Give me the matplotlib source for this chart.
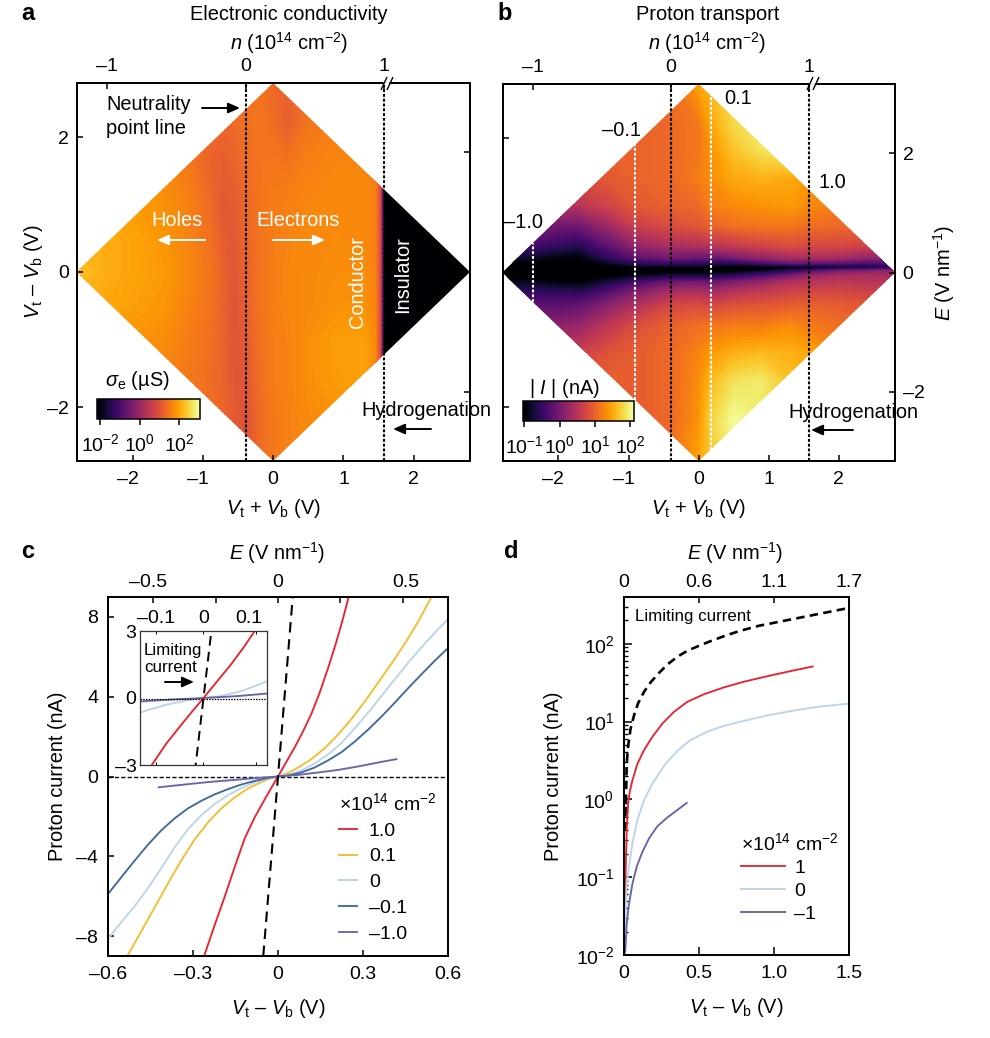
"""Gate-map conductivity and proton transport panels (a-d)."""

import matplotlib
matplotlib.use('Agg')
import matplotlib.pyplot as plt
import numpy as np
from matplotlib.cm import ScalarMappable
from matplotlib.colors import Normalize
from matplotlib.lines import Line2D
from matplotlib.patches import FancyArrowPatch, Polygon
from matplotlib.ticker import LogLocator, NullFormatter
from matplotlib.transforms import ScaledTranslation

plt.rcParams['font.family'] = ['Liberation Sans', 'DejaVu Sans']
plt.rcParams['mathtext.fontset'] = 'custom'
plt.rcParams['mathtext.rm'] = 'Liberation Sans'
plt.rcParams['mathtext.it'] = 'Liberation Sans:italic'
plt.rcParams['mathtext.bf'] = 'Liberation Sans:bold'
plt.rcParams['font.size'] = 14.4

W, H = 990, 1038
TICK_SIZE = 14

# panel a, log10 conductivity on the gate map
a_x = [-2.8, -2.4, -2.0, -1.6, -1.2, -0.9, -0.7, -0.55, -0.4, -0.2, 0.0, 0.2, 0.5, 0.9, 1.3, 1.45, 1.52, 1.56, 1.59, 1.62, 2.8]
a_y = [-2.8, -2.2, -1.6, -1.0, -0.5, 0.0, 0.5, 1.0, 1.6, 2.2, 2.8]
a_sigma = [
    [1.6, 1.6, 1.6, 1.6, 1.6, 1.45, 1.3, 1.15, 1.0, 1.3, 1.5, 1.6, 1.7, 1.8, 1.8, 1.6, 0.9, -0.5, -2.5, -3, -3],
    [1.6, 1.6, 1.6, 1.6, 1.55, 1.4, 1.25, 1.1, 0.95, 1.3, 1.5, 1.6, 1.7, 1.8, 1.85, 1.65, 0.9, -0.5, -2.5, -3, -3],
    [1.7, 1.7, 1.7, 1.65, 1.5, 1.35, 1.2, 1.05, 1.05, 1.35, 1.55, 1.62, 1.75, 1.9, 1.95, 1.7, 0.9, -0.5, -2.5, -3, -3],
    [1.85, 1.85, 1.8, 1.75, 1.55, 1.4, 1.2, 1.02, 1.1, 1.38, 1.55, 1.62, 1.75, 1.92, 1.95, 1.7, 0.9, -0.5, -2.5, -3, -3],
    [2.15, 2.05, 1.95, 1.85, 1.62, 1.42, 1.18, 1.02, 1.15, 1.42, 1.58, 1.65, 1.7, 1.78, 1.8, 1.65, 0.9, -0.5, -2.5, -3, -3],
    [2.3, 2.1, 2.0, 1.9, 1.68, 1.45, 1.2, 1.02, 1.2, 1.42, 1.55, 1.65, 1.7, 1.75, 1.75, 1.6, 0.9, -0.5, -2.5, -3, -3],
    [2.2, 2.1, 2.0, 1.85, 1.62, 1.4, 1.12, 1.05, 1.25, 1.42, 1.55, 1.62, 1.7, 1.72, 1.7, 1.6, 0.9, -0.5, -2.5, -3, -3],
    [2.1, 2.0, 1.9, 1.8, 1.6, 1.32, 1.05, 1.12, 1.28, 1.45, 1.55, 1.6, 1.65, 1.7, 1.7, 1.6, 0.9, -0.5, -2.5, -3, -3],
    [1.85, 1.85, 1.8, 1.7, 1.5, 1.22, 1.15, 1.22, 1.32, 1.45, 1.48, 1.45, 1.6, 1.65, 1.65, 1.55, 0.9, -0.5, -2.5, -3, -3],
    [1.7, 1.7, 1.7, 1.65, 1.5, 1.3, 1.25, 1.3, 1.4, 1.45, 1.35, 1.15, 1.45, 1.6, 1.6, 1.55, 0.9, -0.5, -2.5, -3, -3],
    [1.6, 1.6, 1.6, 1.6, 1.5, 1.4, 1.35, 1.35, 1.4, 1.45, 1.3, 1.2, 1.4, 1.6, 1.6, 1.55, 0.9, -0.5, -2.5, -3, -3],
]

# panel b, log10 |I| on the gate map
b_x = [-2.8, -2.36, -2.0, -1.7, -1.3, -0.9, -0.4, 0.0, 0.17, 0.5, 0.9, 1.3, 1.57, 2.0, 2.4, 2.8]
b_y = [-2.8, -2.2, -1.6, -1.2, -0.8, -0.5, -0.3, -0.15, -0.05, 0.02, 0.08, 0.14, 0.22, 0.4, 0.7, 1.0, 1.4, 1.8, 2.2, 2.8]
b_current = [
    [0.9, 0.9, 0.9, 0.9, 0.9, 0.9, 1.15, 1.45, 1.65, 1.95, 1.95, 1.6, 1.4, 1.2, 1.2, 1.2],
    [0.9, 0.9, 0.9, 0.9, 0.9, 0.95, 1.05, 1.35, 1.75, 2.05, 1.95, 1.6, 1.4, 1.2, 1.2, 1.2],
    [0.9, 0.9, 0.9, 0.9, 0.95, 0.95, 1.05, 1.3, 1.6, 1.85, 1.9, 1.65, 1.45, 1.25, 1.2, 1.2],
    [0.6, 0.6, 0.6, 0.65, 0.85, 0.95, 1.05, 1.25, 1.4, 1.55, 1.6, 1.55, 1.5, 1.25, 1.15, 1.15],
    [0.2, 0.2, 0.2, 0.25, 0.55, 0.8, 1.0, 1.1, 1.15, 1.2, 1.2, 1.3, 1.2, 1.1, 1.05, 1.05],
    [-0.3, -0.2, -0.2, -0.15, 0.15, 0.45, 0.75, 0.8, 0.75, 0.85, 0.9, 0.95, 1.0, 0.95, 0.9, 0.9],
    [-0.55, -0.5, -0.5, -0.55, -0.25, 0.1, 0.4, 0.45, 0.35, 0.5, 0.6, 0.7, 0.75, 0.75, 0.7, 0.7],
    [-0.85, -0.85, -0.95, -1.0, -0.7, -0.35, -0.05, 0.0, -0.1, 0.1, 0.25, 0.45, 0.5, 0.55, 0.5, 0.5],
    [-1.1, -1.1, -1.1, -1.1, -1.0, -0.9, -0.7, -0.7, -0.7, -0.55, -0.3, 0.0, 0.25, 0.35, 0.4, 0.4],
    [-1.1, -1.1, -1.1, -1.1, -1.1, -1.1, -1.05, -1.05, -1.05, -1.0, -0.85, -0.55, -0.3, 0.0, 0.1, 0.2],
    [-1.1, -1.1, -1.1, -1.1, -1.05, -0.95, -0.95, -0.95, -1.0, -1.05, -1.05, -0.95, -0.95, -0.85, -0.8, -0.6],
    [-1.05, -1.05, -1.1, -1.1, -0.85, -0.55, -0.45, -0.55, -0.6, -0.6, -0.35, -0.15, -0.15, -0.2, -0.3, -0.3],
    [-0.75, -0.8, -0.95, -1.0, -0.55, -0.2, -0.05, -0.1, -0.15, 0.0, 0.2, 0.35, 0.4, 0.35, 0.2, 0.2],
    [-0.4, -0.4, -0.5, -0.6, -0.2, 0.2, 0.4, 0.45, 0.5, 0.6, 0.7, 0.8, 0.75, 0.75, 0.7, 0.7],
    [0.1, 0.1, -0.05, -0.05, 0.3, 0.65, 0.8, 0.9, 1.0, 1.1, 1.15, 1.15, 1.1, 1.05, 1.05, 1.05],
    [0.5, 0.5, 0.45, 0.5, 0.7, 0.9, 1.0, 1.05, 1.2, 1.3, 1.35, 1.4, 1.3, 1.2, 1.2, 1.2],
    [0.8, 0.8, 0.8, 0.8, 0.9, 1.0, 1.05, 1.2, 1.3, 1.5, 1.55, 1.5, 1.4, 1.3, 1.3, 1.3],
    [1.0, 1.0, 1.0, 1.0, 1.0, 1.0, 1.05, 1.15, 1.35, 1.65, 1.85, 1.9, 1.7, 1.5, 1.4, 1.4],
    [1.0, 1.0, 1.0, 1.0, 1.0, 1.0, 1.05, 1.15, 1.45, 1.8, 1.95, 1.95, 1.7, 1.5, 1.4, 1.4],
    [1.0, 1.0, 1.0, 1.0, 1.0, 1.0, 1.05, 1.45, 1.6, 1.85, 1.95, 1.9, 1.7, 1.5, 1.4, 1.4],
]

# panel c, proton current against Vt - Vb
v_red = [-0.259, -0.224, -0.188, -0.153, -0.118, -0.082, -0.047, -0.024, 0.0, 0.029, 0.059, 0.088, 0.118, 0.147, 0.176, 0.206, 0.229, 0.249]
i_red = [-8.93, -7.47, -6.02, -4.55, -3.12, -2.04, -1.15, -0.58, 0.0, 0.72, 1.46, 2.25, 3.15, 4.2, 5.4, 6.75, 7.9, 8.98]
v_yellow = [-0.529, -0.482, -0.435, -0.388, -0.341, -0.294, -0.247, -0.2, -0.153, -0.106, -0.059, -0.024, 0.0, 0.035, 0.071, 0.118, 0.165, 0.212, 0.259, 0.306, 0.353, 0.4, 0.447, 0.494, 0.541]
i_yellow = [-8.93, -7.75, -6.55, -5.35, -4.2, -3.15, -2.3, -1.6, -1.05, -0.6, -0.28, -0.08, 0.0, 0.17, 0.45, 0.87, 1.42, 2.1, 2.88, 3.75, 4.7, 5.65, 6.65, 7.75, 8.98]
v_pale = [-0.6, -0.553, -0.506, -0.459, -0.412, -0.365, -0.318, -0.271, -0.224, -0.176, -0.129, -0.082, -0.035, 0.0, 0.035, 0.082, 0.129, 0.176, 0.224, 0.271, 0.318, 0.365, 0.412, 0.459, 0.506, 0.553, 0.6]
i_pale = [-8.14, -7.3, -6.5, -5.6, -4.6, -3.55, -2.65, -1.95, -1.38, -0.93, -0.58, -0.3, -0.1, 0.0, 0.08, 0.3, 0.65, 1.1, 1.68, 2.42, 3.2, 4.03, 4.87, 5.7, 6.47, 7.2, 7.89]
v_navy = [-0.6, -0.553, -0.506, -0.459, -0.412, -0.365, -0.318, -0.271, -0.224, -0.176, -0.129, -0.082, -0.035, 0.0, 0.035, 0.082, 0.129, 0.176, 0.224, 0.271, 0.318, 0.365, 0.412, 0.459, 0.506, 0.553, 0.6]
i_navy = [-5.89, -5.05, -4.22, -3.42, -2.7, -2.1, -1.6, -1.22, -0.9, -0.63, -0.4, -0.22, -0.07, 0.0, 0.05, 0.2, 0.45, 0.8, 1.22, 1.75, 2.35, 3.0, 3.7, 4.42, 5.12, 5.8, 6.44]
v_purple = [-0.421, -0.341, -0.247, -0.153, -0.071, 0.0, 0.071, 0.141, 0.212, 0.282, 0.353, 0.418]
i_purple = [-0.54, -0.42, -0.28, -0.17, -0.07, 0.0, 0.08, 0.2, 0.33, 0.5, 0.7, 0.87]
v_limit = [-0.052, 0.0, 0.052]
i_limit = [-9.0, 0.0, 9.0]
c_labels = ['1.0', '0.1', '0', '\u20130.1', '\u20131.0']

# panel d, same measurements on a log axis
vd_limit = [0.0067, 0.0133, 0.018, 0.027, 0.044, 0.067, 0.093, 0.133, 0.178, 0.233, 0.289, 0.356, 0.422, 0.5, 0.578, 0.667, 0.767, 0.9, 1.173, 1.5]
id_limit = [0.4, 1.0, 2.9, 4.7, 8.1, 12, 17, 24, 32, 42, 54, 68, 81, 94, 108, 125, 145, 170, 216, 288]
vd_red = [0.0067, 0.011, 0.018, 0.027, 0.04, 0.056, 0.067, 0.089, 0.133, 0.189, 0.256, 0.333, 0.422, 0.533, 0.667, 0.8, 0.95, 1.1, 1.258]
id_red = [0.05, 0.12, 0.4, 0.88, 1.3, 1.75, 2.05, 2.85, 4.28, 6.35, 9.4, 13.3, 17.9, 22.4, 27.5, 32.5, 38, 44, 51]
vd_pale = [0.006, 0.011, 0.018, 0.033, 0.056, 0.089, 0.133, 0.189, 0.222, 0.278, 0.356, 0.444, 0.556, 0.667, 0.8, 0.95, 1.1, 1.284, 1.5]
id_pale = [0.012, 0.037, 0.082, 0.135, 0.27, 0.54, 0.97, 1.59, 1.98, 2.88, 4.2, 5.8, 7.4, 8.8, 10.2, 11.9, 13.5, 15.4, 17]
vd_purple = [0.004, 0.009, 0.018, 0.033, 0.056, 0.084, 0.122, 0.167, 0.222, 0.289, 0.356, 0.418]
id_purple = [0.0105, 0.0114, 0.025, 0.045, 0.082, 0.135, 0.21, 0.315, 0.45, 0.585, 0.73, 0.9]
d_labels = ['1', '0', '\u20131']

RED = '#E8252F'
YELLOW = '#F5BC2E'
PALE = '#BDD3E9'
NAVY = '#3F6A9B'
PURPLE = '#6B63A9'

fig = plt.figure(figsize=(W / 100, H / 100), dpi=100)


def px_axes(left, top, right, bottom, **kw):
    return fig.add_axes([left / W, 1 - bottom / H, (right - left) / W, (bottom - top) / H], **kw)


def put(x, y, s, ha='center', va='center', **kw):
    fig.text(x / W, 1 - y / H, s, ha=ha, va=va, **kw)


def arrow(x0, y0, x1, y1, color='black'):
    fig.add_artist(FancyArrowPatch((x0 / W, 1 - y0 / H), (x1 / W, 1 - y1 / H), transform=fig.transFigure,
                                   arrowstyle='-|>,head_length=5,head_width=2.2', color=color, lw=1.4,
                                   shrinkA=0, shrinkB=0, zorder=6, mutation_scale=1.4))


def seg(x0, y0, x1, y1, color='black', lw=1.0):
    fig.add_artist(Line2D([x0 / W, x1 / W], [1 - y0 / H, 1 - y1 / H], transform=fig.transFigure,
                          color=color, lw=lw, zorder=6, solid_capstyle='butt'))


def nudge(lab, dx):
    shift = ScaledTranslation(dx / 100, 0, fig.dpi_scale_trans)
    lab.set_transform(lab.get_transform() + shift)


def hang_minus(labels, dx=-5):
    # digits sit over the tick, the dash hangs out to the left
    for lab in labels:
        if lab.get_text().startswith('\u2013'):
            nudge(lab, dx)


def style(ax, length=4.3):
    for spine in ax.spines.values():
        spine.set_linewidth(1.25)
    ax.tick_params(axis='both', direction='in', length=length, width=1.1, labelsize=TICK_SIZE)


def gate_map(ax, x, y, z, vmin, vmax, n_ticks, n_lines, white_lines):
    levels = np.linspace(vmin, vmax, 161)
    cs = ax.contourf(x, y, np.array(z), levels=levels, cmap='inferno', extend='both', antialiased=False)
    diamond = Polygon([(-2.8, 0), (0, 2.8), (2.8, 0), (0, -2.8)], closed=True, transform=ax.transData,
                      fc='none', ec='none')
    ax.add_patch(diamond)
    cs.set_clip_path(diamond)
    ax.set_xlim(-2.79, 2.8)
    ax.set_ylim(-2.8, 2.8)
    ax.set_xticks([-2, -1, 0, 1, 2])
    ax.set_xticklabels(['\u20132', '\u20131', '0', '1', '2'])
    ax.set_xlabel(r'$V_{\mathrm{t}}$ + $V_{\mathrm{b}}$ (V)', labelpad=7)
    style(ax)
    ax.tick_params(axis='x', pad=7)
    ax.tick_params(axis='y', pad=5.5)
    hang_minus(ax.get_xticklabels())

    for xv in n_lines:
        ax.plot([xv, xv], [-2.8, 2.8], color='black', lw=1.5, dashes=(1.4, 0.9), zorder=4)
    for xv in white_lines:
        top = 2.8 - abs(xv)
        ax.plot([xv, xv], [-top, top], color='white', lw=1.5, dashes=(1.4, 0.9), zorder=4)

    top_ax = ax.twiny()
    top_ax.set_xlim(ax.get_xlim())
    top_ax.set_xticks(n_ticks)
    top_ax.set_xticklabels(['\u20131', '0', '1'])
    style(top_ax)
    top_ax.tick_params(axis='x', pad=5.5)
    return top_ax


# panel a
ax_a = px_axes(77, 83, 470, 461)
gate_map(ax_a, a_x, a_y, a_sigma, -2.15, 3.05, [-2.36, -0.39, 1.58], [-0.39, 1.58], [])
ax_a.set_yticks([-2, 0, 2])
ax_a.set_yticklabels(['\u20132', '0', '2'])
ax_a.set_ylabel(r'$V_{\mathrm{t}}$ – $V_{\mathrm{b}}$ (V)', labelpad=2)
right_a = ax_a.twinx()
right_a.set_ylim(-2.8, 2.8)
right_a.set_yticks([-1.78, 1.78])
right_a.set_yticklabels([])
style(right_a)

# panel b
ax_b = px_axes(503, 84, 895, 461)
gate_map(ax_b, b_x, b_y, b_current, -1.03, 2.1, [-2.36, -0.40, 1.57], [-0.40, 1.57], [-2.36, -0.91, 0.17])
ax_b.set_yticks([-2, 2])
ax_b.set_yticklabels([])
right_b = ax_b.twinx()
right_b.set_ylim(-2.8, 2.8)
right_b.set_yticks([-1.77, 0, 1.77])
right_b.set_yticklabels(['\u20132', '0', '2'])
style(right_b)
right_b.tick_params(axis='y', pad=5.5)
right_b.set_ylabel(r'$E$ (V nm$^{-1}$)', labelpad=5)

# colour bars
for left, top, right, bottom, norm_lim, ticks, tick_text in [
    (97, 399, 200, 419, (-2.15, 3.05), [-2, 0, 2], ['10$^{-2}$', '10$^{0}$', '10$^{2}$']),
    (523, 401, 634, 421, (-1.03, 2.1), [-1, 0, 1, 2], ['10$^{-1}$', '10$^{0}$', '10$^{1}$', '10$^{2}$']),
]:
    cax = px_axes(left, top, right, bottom)
    sm = ScalarMappable(norm=Normalize(*norm_lim), cmap='inferno')
    cb = fig.colorbar(sm, cax=cax, orientation='horizontal')
    cb.set_ticks(ticks)
    cb.set_ticklabels(tick_text)
    cb.outline.set_linewidth(1.1)
    cax.tick_params(axis='x', direction='out', length=4.3, width=1.1, pad=6, labelsize=TICK_SIZE)

# panel a and b wording
put(28, 13, 'a', fontsize=17, fontweight='bold')
put(505, 13, 'b', fontsize=17, fontweight='bold')
put(28, 551, 'c', fontsize=17, fontweight='bold')
put(511, 551, 'd', fontsize=17, fontweight='bold')
put(289, 15, 'Electronic conductivity')
put(289, 43, r'$n$ (10$^{14}$ cm$^{-2}$)')
put(708, 15, 'Proton transport')
put(707, 43, r'$n$ (10$^{14}$ cm$^{-2}$)')
put(106, 104, 'Neutrality', ha='left')
put(106, 129, 'point line', ha='left')
arrow(202, 108, 240, 108)
put(177, 221, 'Holes', color='white')
arrow(205, 240, 157, 240, color='white')
put(298, 221, 'Electrons', color='white')
arrow(273, 240, 325, 240, color='white')
put(357, 282, 'Conductor', color='white', rotation=90)
put(403, 275, 'Insulator', color='white', rotation=90)
put(105, 380, r'$\sigma_{\mathrm{e}}$ (µS)', ha='left')
put(361, 411, 'Hydrogenation', ha='left')
arrow(431, 429, 393, 429)
put(738, 99, '0.1')
put(621, 131, '\u20130.1')
put(523, 222, '\u20131.0')
put(832, 182, '1.0')
put(529, 388, r'$|$ $I$ $|$ (nA)', ha='left')
put(788, 412, 'Hydrogenation', ha='left')
arrow(853, 430, 811, 430)
for x0 in (381, 807):
    seg(x0 + 2, 83, x0 + 8, 83, color='white', lw=2.0)
    seg(x0, 90, x0 + 6, 77)
    seg(x0 + 6, 90, x0 + 12, 77)

# panel c
ax_c = px_axes(108, 597, 448, 956)
series_c = [(v_red, i_red, RED), (v_yellow, i_yellow, YELLOW), (v_pale, i_pale, PALE), (v_navy, i_navy, NAVY), (v_purple, i_purple, PURPLE)]
for (vv, ii, col), lab in zip(series_c, c_labels):
    ax_c.plot(vv, ii, color=col, lw=1.35, label=lab)
ax_c.plot(v_limit, i_limit, color='black', lw=1.5, dashes=(5, 3.2))
ax_c.axhline(0, color='black', lw=1.0, dashes=(3, 1.6), zorder=1)
ax_c.set_xlim(-0.6, 0.6)
ax_c.set_ylim(-9, 9)
ax_c.set_xticks([-0.6, -0.3, 0, 0.3, 0.6])
ax_c.set_xticklabels(['\u20130.6', '\u20130.3', '0', '0.3', '0.6'])
ax_c.set_yticks([-8, -4, 0, 4, 8])
ax_c.set_yticklabels(['\u20138', '\u20134', '0', '4', '8'])
ax_c.set_xlabel(r'$V_{\mathrm{t}}$ – $V_{\mathrm{b}}$ (V)', labelpad=10)
ax_c.set_ylabel('Proton current (nA)', labelpad=6.5)
style(ax_c)
ax_c.tick_params(axis='x', pad=7)
ax_c.tick_params(axis='y', pad=7)
ax_c.legend(loc='upper left', bbox_to_anchor=(0.679, 0.457), frameon=False, title='\u00d710$^{14}$ cm$^{-2}$',
            alignment='left', fontsize=14, title_fontsize=14, handlelength=0.95, handletextpad=0.6,
            labelspacing=0.42, borderpad=0, borderaxespad=0)
top_c = ax_c.twiny()
top_c.set_xlim(-0.6, 0.6)
top_c.set_xticks([-0.44, -0.22, 0, 0.22, 0.44])
top_c.set_xticklabels(['\u20130.5', '', '0', '', '0.5'])
style(top_c)
top_c.tick_params(axis='x', pad=4)
hang_minus(top_c.get_xticklabels(), dx=-5)
nudge(top_c.get_xticklabels()[4], 3)
put(277, 553, r'$E$ (V nm$^{-1}$)')

# inset of panel c
ins = px_axes(140, 631, 267, 765)
for vv, ii, col in [series_c[2], series_c[4], series_c[0]]:
    ins.plot(vv, ii, color=col, lw=1.35)
ins.plot(v_limit, i_limit, color='black', lw=1.4, dashes=(5, 3.2))
ins.axhline(-0.05, color='black', lw=0.9, dashes=(1.2, 1))
ins.set_xlim(-0.14, 0.14)
ins.set_ylim(-3, 3)
ins.set_xticks([-0.104, 0, 0.116])
ins.set_xticklabels(['\u20130.1', '0', '0.1'])
ins.set_yticks([-3, 0, 3])
ins.set_yticklabels(['\u20133', '0', '3'])
for spine in ins.spines.values():
    spine.set_linewidth(0.9)
    spine.set_edgecolor('#333333')
ins.tick_params(axis='x', top=True, labeltop=True, bottom=True, labelbottom=False, direction='in', length=2.0, width=0.7, pad=3, labelsize=TICK_SIZE)
ins.tick_params(axis='y', direction='in', length=0, pad=2.5, labelsize=TICK_SIZE)
nudge(ins.get_xticklabels()[2], -7)
put(144, 651, 'Limiting', ha='left', fontsize=12.2)
put(144, 668, 'current', ha='left', fontsize=12.2)
arrow(165, 682, 194, 682)

# panel d
ax_d = px_axes(624, 597, 849, 955)
ax_d.plot(vd_limit, id_limit, color='black', lw=1.9, dashes=(3.2, 2.0))
for vv, ii, col, lab in zip([vd_red, vd_pale, vd_purple], [id_red, id_pale, id_purple], [RED, PALE, PURPLE], d_labels):
    ax_d.plot(vv, ii, color=col, lw=1.35, label=lab)
ax_d.set_yscale('log')
ax_d.set_xlim(0, 1.5)
ax_d.set_ylim(1e-2, 398)
ax_d.set_xticks([0, 0.5, 1.0, 1.5])
ax_d.set_xticklabels(['0', '0.5', '1.0', '1.5'])
style(ax_d, length=5.5)
ax_d.yaxis.set_major_locator(LogLocator(base=10, numticks=10))
ax_d.yaxis.set_minor_locator(LogLocator(base=10, subs=np.arange(2, 10) * 0.1, numticks=12))
ax_d.yaxis.set_minor_formatter(NullFormatter())
ax_d.tick_params(axis='y', which='minor', direction='in', length=2.8, width=1.0)
ax_d.tick_params(axis='x', pad=7)
ax_d.tick_params(axis='y', which='major', pad=7)
ax_d.set_xlabel(r'$V_{\mathrm{t}}$ – $V_{\mathrm{b}}$ (V)', labelpad=10)
ax_d.set_ylabel('Proton current (nA)', labelpad=9)
ax_d.legend(loc='upper left', bbox_to_anchor=(0.52, 0.343), frameon=False, title='\u00d710$^{14}$ cm$^{-2}$',
            alignment='left', fontsize=14, title_fontsize=14, handlelength=2.25, handletextpad=0.5,
            labelspacing=0.28, borderpad=0, borderaxespad=0)
top_d = ax_d.twiny()
top_d.set_xlim(0, 1.5)
top_d.set_xticks([0, 0.5, 1.0, 1.5])
top_d.set_xticklabels(['0', '0.6', '1.1', '1.7'])
style(top_d)
top_d.tick_params(axis='x', pad=4)
put(735, 553, r'$E$ (V nm$^{-1}$)')
put(635, 617, 'Limiting current', ha='left', fontsize=12.2)

fig.savefig('out.png', dpi=100, facecolor='white')
plt.close(fig)
